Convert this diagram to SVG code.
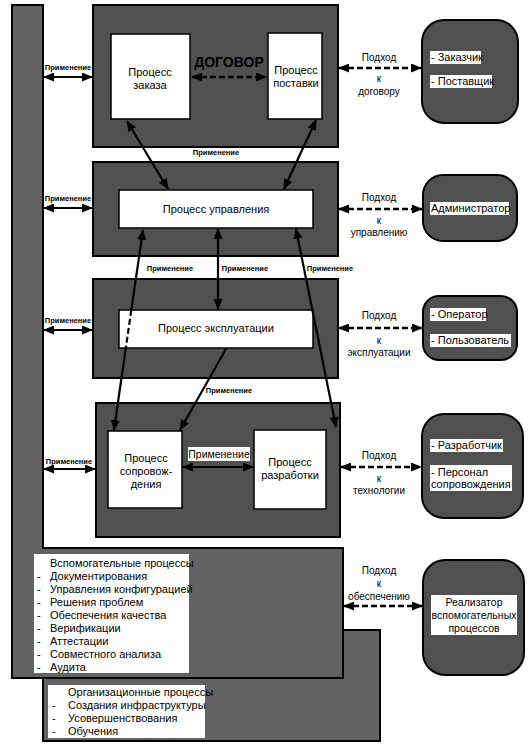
<svg xmlns="http://www.w3.org/2000/svg" width="530" height="744" viewBox="0 0 530 744">
<defs>
<marker id="ah" markerUnits="userSpaceOnUse" markerWidth="11" markerHeight="9" refX="10" refY="4.5" orient="auto-start-reverse" viewBox="0 0 11 9">
<path d="M0,0 L11,4.5 L0,9 Z" fill="#000"/>
</marker>
<style>
.dark{fill:#505050;stroke:#000;stroke-width:2}
.bar{fill:#626262;stroke:#000;stroke-width:2}
.wbox{fill:#fff;stroke:#000;stroke-width:1.5}
.wl{fill:#fff;stroke:none}
.t{font-family:"Liberation Sans",Arial,sans-serif;font-size:11px;fill:#000}
.c{text-anchor:middle}
.sm{font-family:"Liberation Sans",Arial,sans-serif;font-size:7.5px;font-weight:bold;fill:#000;text-anchor:middle}
.ap{font-family:"Liberation Sans",Arial,sans-serif;font-size:10px;fill:#000;text-anchor:middle}
.solid{stroke:#000;stroke-width:2.2;fill:none;marker-start:url(#ah);marker-end:url(#ah)}
.one{stroke:#000;stroke-width:2.2;fill:none;marker-end:url(#ah)}
.dash{stroke:#000;stroke-width:2.5;fill:none;stroke-dasharray:6,3;marker-start:url(#ah);marker-end:url(#ah)}
.plain{stroke:#000;stroke-width:2.2;fill:none}
.plaind{stroke:#000;stroke-width:2.2;fill:none;stroke-dasharray:6,3}
</style>
</defs>
<rect width="530" height="744" fill="#fff"/>

<g id="org">
<rect class="bar" x="43" y="630" width="337" height="111"/>
<rect class="wl" x="48" y="685" width="157" height="53"/>
<text class="t" x="68" y="696">Организационные процессы</text>
<text class="t" x="52" y="709">-</text><text class="t" x="68" y="709">Создания инфраструктуры</text>
<text class="t" x="52" y="722">-</text><text class="t" x="68" y="722">Усовершенствования</text>
<text class="t" x="52" y="735">-</text><text class="t" x="68" y="735">Обучения</text>
</g>

<g id="support">
<path class="bar" d="M12,5 H43 V548 H343 V678 H12 Z"/>
<rect class="wl" x="34" y="554" width="155" height="119"/>
<text class="t" x="50" y="567">Вспомогательные процессы</text>
<text class="t" x="37" y="580">-</text><text class="t" x="50" y="580">Документирования</text>
<text class="t" x="37" y="593">-</text><text class="t" x="50" y="593">Управления конфигурацией</text>
<text class="t" x="37" y="606">-</text><text class="t" x="50" y="606">Решения проблем</text>
<text class="t" x="37" y="619">-</text><text class="t" x="50" y="619">Обеспечения качества</text>
<text class="t" x="37" y="632">-</text><text class="t" x="50" y="632">Верификации</text>
<text class="t" x="37" y="645">-</text><text class="t" x="50" y="645">Аттестации</text>
<text class="t" x="37" y="658">-</text><text class="t" x="50" y="658">Совместного анализа</text>
<text class="t" x="37" y="671">-</text><text class="t" x="50" y="671">Аудита</text>
</g>

<g id="contract">
<rect class="dark" x="93" y="5" width="245" height="142"/>
<text x="229" y="67" font-family="Liberation Sans, Arial, sans-serif" font-size="14" font-weight="bold" text-anchor="middle" fill="#000">ДОГОВОР</text>
</g>
<g id="order">
<rect class="wbox" x="111" y="34" width="79" height="85"/>
<text class="t c" x="150" y="76">Процесс</text>
<text class="t c" x="150" y="89">заказа</text>
</g>
<g id="supply">
<rect class="wbox" x="268" y="33" width="54" height="86"/>
<text class="t c" x="296" y="74">Процесс</text>
<text class="t c" x="296" y="87">поставки</text>
</g>

<g id="management">
<rect class="dark" x="93" y="162" width="245" height="94"/>
<rect class="wbox" x="119" y="190" width="194" height="38"/>
<text class="t c" x="216" y="213">Процесс управления</text>
</g>

<g id="operation">
<rect class="dark" x="93" y="279" width="245" height="99"/>
<rect class="wbox" x="119" y="310" width="194" height="38"/>
<text class="t c" x="216" y="332">Процесс эксплуатации</text>
</g>

<g id="devblock">
<rect class="dark" x="96" y="403" width="244" height="134"/>
</g>
<g id="maintenance">
<rect class="wbox" x="108" y="431" width="74" height="77"/>
<text class="t c" x="146" y="462">Процесс</text>
<text class="t c" x="146" y="475">сопровож-</text>
<text class="t c" x="146" y="488">дения</text>
</g>
<g id="development">
<rect class="wbox" x="254" y="430" width="72" height="79"/>
<text class="t c" x="290" y="466">Процесс</text>
<text class="t c" x="290" y="479">разработки</text>
</g>

<g id="roles-contract">
<rect class="dark" x="422" y="20" width="96" height="103" rx="22"/>
<rect class="wl" x="430" y="51" width="51" height="13"/>
<text class="t" x="431" y="61">- Заказчик</text>
<rect class="wl" x="430" y="75" width="62" height="13"/>
<text class="t" x="431" y="85">- Поставщик</text>
</g>
<g id="roles-management">
<rect class="dark" x="423" y="175" width="94" height="66" rx="20"/>
<rect class="wl" x="430" y="202" width="79" height="13"/>
<text class="t" x="431" y="212">Администратор</text>
</g>
<g id="roles-operation">
<rect class="dark" x="423" y="296" width="94" height="64" rx="16"/>
<rect class="wl" x="430" y="308" width="56" height="13"/>
<text class="t" x="431" y="318">- Оператор</text>
<rect class="wl" x="430" y="334" width="81" height="13"/>
<text class="t" x="431" y="344">- Пользователь</text>
</g>
<g id="roles-technology">
<rect class="dark" x="422" y="414" width="101" height="104" rx="22"/>
<rect class="wl" x="430" y="439" width="73" height="13"/>
<text class="t" x="431" y="449">- Разработчик</text>
<rect class="wl" x="430" y="465" width="82" height="26"/>
<text class="t" x="431" y="476">- Персонал</text>
<text class="t" x="431" y="488">сопровождения</text>
</g>
<g id="roles-support">
<rect class="dark" x="423" y="560" width="101" height="115" rx="22"/>
<rect class="wl" x="431" y="595" width="86" height="40"/>
<text class="t c" x="474" y="606" style="font-size:10.5px">Реализатор</text>
<text class="t c" x="474" y="619" style="font-size:10.5px">вспомогательных</text>
<text class="t c" x="474" y="632" style="font-size:10.5px">процессов</text>
</g>

<g id="connectors">
<line class="solid" x1="44" y1="77" x2="92" y2="77"/>
<line class="solid" x1="44" y1="208" x2="92" y2="208"/>
<line class="solid" x1="44" y1="330" x2="92" y2="330"/>
<line class="solid" x1="44" y1="469" x2="95" y2="469"/>
<text class="sm" x="68" y="70">Применение</text>
<text class="sm" x="68" y="201">Применение</text>
<text class="sm" x="68" y="323">Применение</text>
<text class="sm" x="69" y="464">Применение</text>

<line class="dash" x1="192" y1="77" x2="266" y2="77"/>

<line class="dash" x1="339" y1="68" x2="421" y2="68"/>
<line class="dash" x1="339" y1="209" x2="422" y2="209"/>
<line class="dash" x1="339" y1="328" x2="422" y2="328"/>
<line class="dash" x1="341" y1="467" x2="421" y2="467"/>
<line class="dash" x1="344" y1="606" x2="422" y2="606"/>
<text class="ap" x="379" y="61">Подход</text>
<text class="ap" x="379" y="82">к</text>
<text class="ap" x="379" y="95">договору</text>
<text class="ap" x="379" y="201">Подход</text>
<text class="ap" x="379" y="224">к</text>
<text class="ap" x="379" y="236">управлению</text>
<text class="ap" x="379" y="319">Подход</text>
<text class="ap" x="379" y="344">к</text>
<text class="ap" x="379" y="356">эксплуатации</text>
<text class="ap" x="379" y="459">Подход</text>
<text class="ap" x="379" y="482">к</text>
<text class="ap" x="379" y="494">технологии</text>
<text class="ap" x="379" y="574">Подход</text>
<text class="ap" x="379" y="587">к</text>
<text class="ap" x="379" y="600">обеспечению</text>

<line class="solid" x1="127" y1="121" x2="168" y2="189"/>
<line class="solid" x1="316" y1="120" x2="284" y2="189"/>
<rect class="wl" x="190" y="148" width="52" height="9"/>
<text class="sm" x="216" y="155">Применение</text>

<line class="plain" x1="143" y1="230" x2="131.3" y2="310" marker-start="url(#ah)"/>
<line class="plaind" x1="131.3" y1="310" x2="125.8" y2="348"/>
<line class="plain" x1="125.8" y1="348" x2="114" y2="430" marker-end="url(#ah)"/>
<line class="solid" x1="218" y1="229" x2="218" y2="309"/>
<line class="solid" x1="296" y1="229" x2="336" y2="427"/>
<line class="one" x1="226" y1="349" x2="180" y2="430"/>
<text class="sm" x="170" y="271">Применение</text>
<text class="sm" x="245" y="271">Применение</text>
<text class="sm" x="330" y="271">Применение</text>
<text class="sm" x="229" y="393">Применение</text>

<line class="solid" x1="183" y1="467" x2="253" y2="467"/>
<rect class="wl" x="188" y="447" width="62" height="14"/>
<text x="219" y="458" font-family="Liberation Sans, Arial, sans-serif" font-size="10.5" text-anchor="middle" fill="#000">Применение</text>
</g>
</svg>
